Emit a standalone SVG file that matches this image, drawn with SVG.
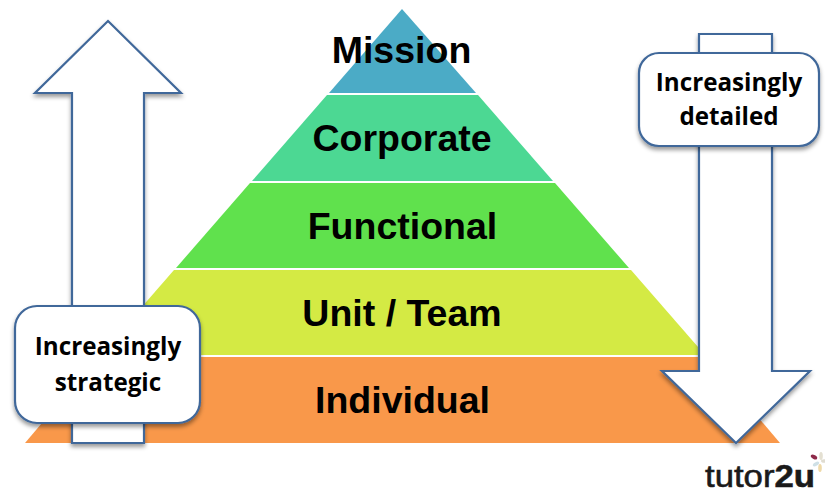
<svg xmlns="http://www.w3.org/2000/svg" width="825" height="494" viewBox="0 0 825 494">
<style>
.lvl{font:bold 37.5px "Liberation Sans",Arial,sans-serif;fill:#000;text-anchor:middle}
.cap{font:bold 24.2px "Open Sans","Noto Sans",sans-serif;fill:#000;text-anchor:middle}
.sh{fill:#fff;stroke:#41689a;stroke-width:2.2;stroke-linejoin:miter;filter:url(#shadow)}
.logo{font-family:"Liberation Sans",Arial,sans-serif;font-size:32px;fill:#1a1a1a;stroke:#1a1a1a;stroke-width:.6}
</style>
<defs>
<filter id="shadow" x="-15%" y="-15%" width="130%" height="130%">
<feDropShadow dx="0" dy="3" stdDeviation="2.2" flood-color="#000" flood-opacity="0.4"/>
</filter>
</defs>
<rect width="825" height="494" fill="#fff"/>
<g id="pyramid-mission"><polygon points="402,9 476,93 329,93" fill="#4babc6"/><text class="lvl" x="401.500" y="63">Mission</text></g>
<g id="pyramid-corporate"><polygon points="327,95 478,95 553,181 252,181" fill="#4cd893"/><text class="lvl" x="402" y="151">Corporate</text></g>
<g id="pyramid-functional"><polygon points="250,183 555,183 629,268 176,268" fill="#60e14d"/><text class="lvl" x="402.500" y="239">Functional</text></g>
<g id="pyramid-unit"><polygon points="174,270 631,270 705,355 100,355" fill="#d4ea44"/><text class="lvl" x="402" y="326">Unit / Team</text></g>
<g id="pyramid-individual"><polygon points="98,357 707,357 780,443 25,443" fill="#f9984a"/><text class="lvl" x="402.500" y="413">Individual</text></g>
<g id="connectors">
<polygon id="arrow-up" class="sh" points="108,21 181,93 144,93 144,443 72,443 72,93 35,93"/>
<polygon id="arrow-down" class="sh" points="699,34 772,34 772,371 810,371 736,443 662,371 699,371"/>
</g>
<g id="box-strategic"><rect class="sh" x="15" y="306" width="185" height="117" rx="22"/><text class="cap" x="108" y="355">Increasingly</text><text class="cap" x="108" y="391">strategic</text></g>
<g id="box-detailed"><rect class="sh" x="639" y="53" width="180" height="93" rx="20"/><text class="cap" x="729" y="91">Increasingly</text><text class="cap" x="729" y="125">detailed</text></g>
<g id="logo">
<text class="logo" x="705" y="487" textLength="110" lengthAdjust="spacingAndGlyphs">tutor<tspan font-weight="bold">2u</tspan></text>
<g transform="translate(820,462)">
<ellipse cx="-6" cy="-5" rx="3.500" ry="2" fill="#8e2a4a" transform="rotate(30 -6 -5)"/>
<ellipse cx="1" cy="-6" rx="1.800" ry="4" fill="#e4e0d2"/>
<ellipse cx="-4" cy="2" rx="3.500" ry="1.800" fill="#cfe0e6" transform="rotate(-30 -4 2)"/>
<ellipse cx="0" cy="6" rx="1.800" ry="4" fill="#eed9a8"/>
<ellipse cx="4" cy="-1" rx="3" ry="1.800" fill="#e0dcd0"/>
</g>
</g>
</svg>
